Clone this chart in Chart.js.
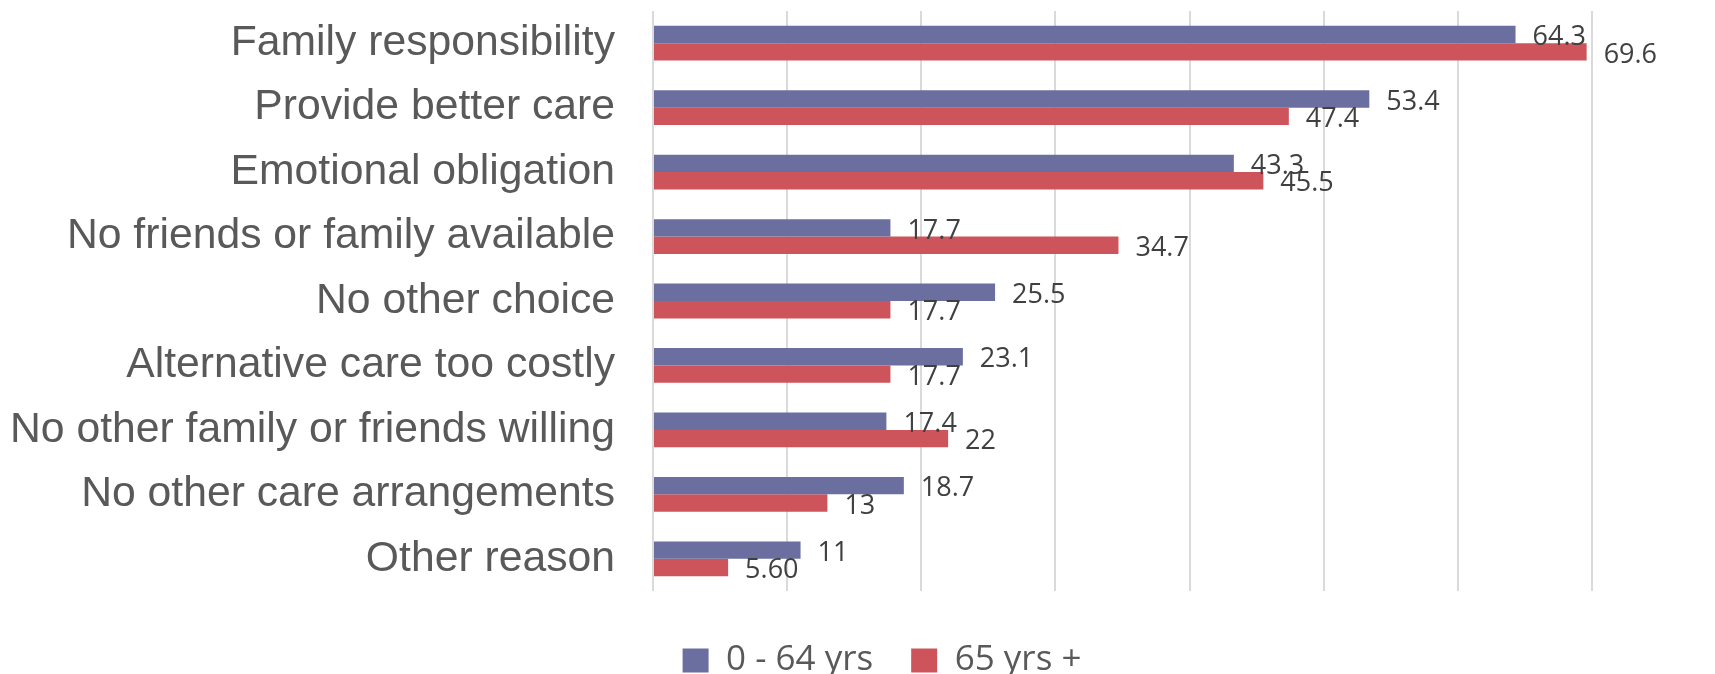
<!DOCTYPE html>
<html>
<head>
<meta charset="utf-8">
<script src="https://cdn.jsdelivr.net/npm/chart.js@4"></script>
<style>body{margin:0;background:#fff}</style>
</head>
<body>
<canvas id="grafica" width="1715" height="674"></canvas>
<script>
const reasons = [
  "Family responsibility",
  "Provide better care",
  "Emotional obligation",
  "No friends or family available",
  "No other choice",
  "Alternative care too costly",
  "No other family or friends willing",
  "No other care arrangements",
  "Other reason"
];
const seriesNames = ["0 - 64 yrs", "65 yrs +"];
const under65 = [64.3, 53.4, 43.3, 17.7, 25.5, 23.1, 17.4, 18.7, 11];
const over65 = [69.6, 47.4, 45.5, 34.7, 17.7, 17.7, 22, 13, 5.6];
const xMin = 0, xMax = 70, xStep = 10;

// excel showed this one with two decimals
function labelText(v) {
  return v === 5.6 ? "5.60" : String(v);
}

const valueLabels = {
  id: "valueLabels",
  afterDatasetsDraw(chart) {
    const ctx = chart.ctx;
    ctx.save();
    ctx.font = '27px "Open Sans"';
    ctx.fillStyle = "#404040";
    ctx.textAlign = "left";
    ctx.textBaseline = "middle";
    chart.data.datasets.forEach((ds, i) => {
      chart.getDatasetMeta(i).data.forEach((bar, j) => {
        ctx.fillText(labelText(ds.data[j]), bar.x + 17, bar.y + 3);
      });
    });
    ctx.restore();
  }
};

const ctx = document.getElementById("grafica");

new Chart(ctx, {
  type: "bar",
  data: {
    labels: reasons,
    datasets: [
      { label: seriesNames[0], data: under65, backgroundColor: "#6a6fa0" },
      { label: seriesNames[1], data: over65, backgroundColor: "#ce545b" }
    ]
  },
  options: {
    indexAxis: "y",
    responsive: false,
    animation: false,
    categoryPercentage: 0.54,
    barPercentage: 1,
    layout: { padding: { left: 172, right: 123, top: 11, bottom: -14 } },
    scales: {
      x: {
        min: xMin,
        max: xMax,
        ticks: { display: false, stepSize: xStep },
        grid: { color: "#dadada", lineWidth: 2, drawTicks: false },
        border: { display: false },
        afterFit(scale) { scale.height = 14; }
      },
      y: {
        ticks: {
          autoSkip: false,
          padding: 38,
          color: "#595959",
          font: { family: '"Liberation Sans", Arial', size: 42.7 }
        },
        grid: { display: false, drawTicks: false },
        border: { display: false },
        afterFit(scale) {
          // long labels run past the left padding, so no clipping and no extra top/bottom room
          scale.width = 481;
          scale.paddingTop = 0;
          scale.paddingBottom = 0;
          scale._computeLabelArea = () => undefined;
        }
      }
    },
    plugins: {
      legend: {
        position: "bottom",
        labels: {
          boxWidth: 26,
          boxHeight: 24,
          padding: 38,
          color: "#595959",
          font: { family: '"Open Sans"', size: 35 }
        }
      },
      tooltip: { enabled: false }
    }
  },
  plugins: [valueLabels]
});
</script>
</body>
</html>
